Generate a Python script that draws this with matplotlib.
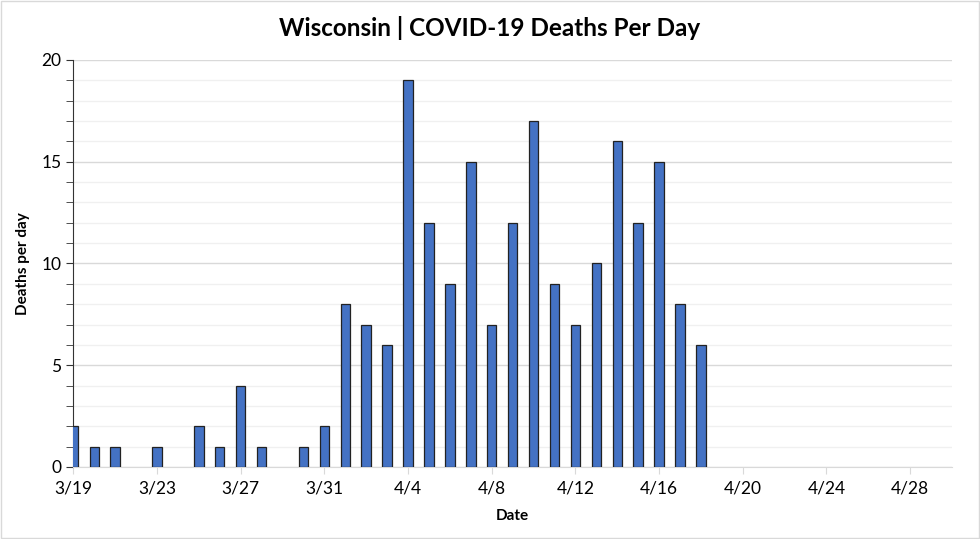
import matplotlib.pyplot as plt
import matplotlib.dates as mdates
from matplotlib.ticker import MultipleLocator
import numpy as np
import datetime as dt

plt.rcParams['font.family'] = ['Lato', 'DejaVu Sans']

# deaths per day from 3/19 to 4/18
start = dt.date(2020, 3, 19)
deaths = [2, 1, 1, 0, 1, 0, 2, 1, 4, 1, 0, 1, 2, 8, 7, 6,
          19, 12, 9, 15, 7, 12, 17, 9, 7, 10, 16, 12, 15, 8, 6]
days = [start + dt.timedelta(days=i) for i in range(len(deaths))]

tick_days = [start + dt.timedelta(days=4 * i) for i in range(11)]
tick_labels = ["%d/%d" % (d.month, d.day) for d in tick_days]

fig = plt.figure(figsize=(9.8, 5.39), dpi=100)
ax = fig.add_axes([0.0748, 0.1336, 0.8966, 0.7551])

# no outline for empty days
lw = [0.9 if v > 0 else 0 for v in deaths]
ax.bar(days, deaths, width=0.45, color="#4472C4", edgecolor="#222222", linewidth=lw, zorder=3)

ax.set_xlim(mdates.date2num(start), mdates.date2num(start + dt.timedelta(days=42)))
ax.set_ylim(0, 20)
ax.set_xticks(tick_days)
ax.set_xticklabels(tick_labels)
ax.yaxis.set_major_locator(MultipleLocator(5))
ax.yaxis.set_minor_locator(MultipleLocator(1))

ax.grid(axis="y", which="major", color="#d9d9d9", linewidth=1.0, zorder=0)
ax.grid(axis="y", which="minor", color="#f0f0f0", linewidth=1.0, zorder=0)

for s in ["top", "right"]:
    ax.spines[s].set_visible(False)
ax.spines["left"].set_color("#333333")
ax.spines["bottom"].set_color("#d9d9d9")
ax.tick_params(axis="y", which="both", direction="out", length=5, color="#333333", labelsize=12.5)
ax.tick_params(axis="x", direction="out", length=5, color="#d9d9d9", labelsize=12.5, pad=5)

ax.set_xlabel("Date", fontsize=11, fontweight="bold", labelpad=9)
ax.set_ylabel("Deaths per day", fontsize=11, fontweight="bold", labelpad=8)
fig.suptitle("Wisconsin | COVID-19 Deaths Per Day", fontsize=17.5, fontweight="bold", y=0.97)

border = plt.Rectangle((0.001, 0.001), 0.998, 0.998, transform=fig.transFigure,
                       fill=False, edgecolor="#d9d9d9", linewidth=1)
fig.patches.append(border)

fig.savefig("out.png", dpi=100)
